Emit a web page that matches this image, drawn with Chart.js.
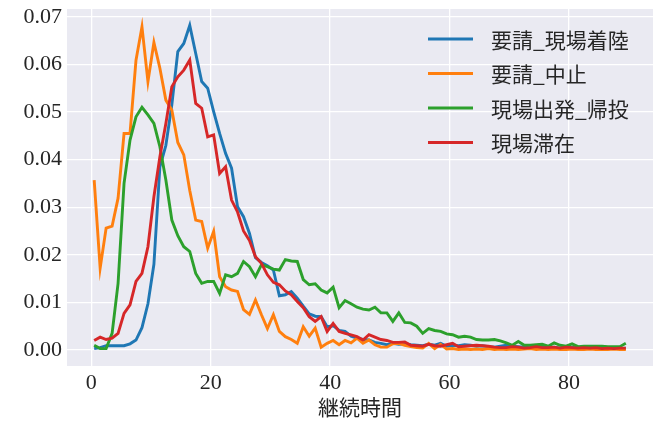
<!DOCTYPE html>
<html>
<head>
<meta charset="utf-8">
<script src="https://cdn.jsdelivr.net/npm/chart.js@4"></script>
<style>
  html, body { margin: 0; padding: 0; background: #ffffff; }
  #chart { display: block; }
</style>
</head>
<body>
<canvas id="chart" width="659" height="421"></canvas>
<script>
// 継続時間 (bin centres)
const durations = [
  0.5, 1.5, 2.5, 3.5, 4.5, 5.5, 6.5, 7.5, 8.5, 9.5,
  10.5, 11.5, 12.5, 13.5, 14.5, 15.5, 16.5, 17.5, 18.5, 19.5,
  20.5, 21.5, 22.5, 23.5, 24.5, 25.5, 26.5, 27.5, 28.5, 29.5,
  30.5, 31.5, 32.5, 33.5, 34.5, 35.5, 36.5, 37.5, 38.5, 39.5,
  40.5, 41.5, 42.5, 43.5, 44.5, 45.5, 46.5, 47.5, 48.5, 49.5,
  50.5, 51.5, 52.5, 53.5, 54.5, 55.5, 56.5, 57.5, 58.5, 59.5,
  60.5, 61.5, 62.5, 63.5, 64.5, 65.5, 66.5, 67.5, 68.5, 69.5,
  70.5, 71.5, 72.5, 73.5, 74.5, 75.5, 76.5, 77.5, 78.5, 79.5,
  80.5, 81.5, 82.5, 83.5, 84.5, 85.5, 86.5, 87.5, 88.5, 89.5
];

const seriesNames = ['要請_現場着陸', '要請_中止', '現場出発_帰投', '現場滞在'];
const seriesColors = ['#1f77b4', '#ff7f0e', '#2ca02c', '#d62728'];

const requestToArrival = [
  0.0003, 0.0005, 0.0009, 0.0009, 0.0009, 0.0009, 0.0013, 0.0021, 0.0047, 0.0097,
  0.0180, 0.0385, 0.0430, 0.0515, 0.0627, 0.0644, 0.0682, 0.0623, 0.0564, 0.0550,
  0.0501, 0.0455, 0.0413, 0.0382, 0.0301, 0.0280, 0.0245, 0.0194, 0.0184, 0.0177,
  0.0168, 0.0114, 0.0116, 0.0123, 0.0109, 0.0092, 0.0076, 0.0071, 0.0070, 0.0049,
  0.0051, 0.0041, 0.0039, 0.0029, 0.0025, 0.0022, 0.0021, 0.0016, 0.0014, 0.0011,
  0.0014, 0.0012, 0.0013, 0.0011, 0.0010, 0.0009, 0.0012, 0.0010, 0.0014, 0.0008,
  0.0010, 0.0009, 0.0011, 0.0010, 0.0008, 0.0009, 0.0007, 0.0006, 0.0008, 0.0010,
  0.0008, 0.0007, 0.0006, 0.0005, 0.0008, 0.0006, 0.0005, 0.0006, 0.0004, 0.0005,
  0.0006, 0.0004, 0.0005, 0.0004, 0.0003, 0.0004, 0.0003, 0.0004, 0.0003, 0.0004
];

const requestCancelled = [
  0.0357, 0.0172, 0.0256, 0.0260, 0.0319, 0.0455, 0.0455, 0.0609, 0.0679, 0.0564,
  0.0646, 0.0592, 0.0525, 0.0504, 0.0436, 0.0410, 0.0335, 0.0273, 0.0270, 0.0214,
  0.0249, 0.0154, 0.0133, 0.0126, 0.0123, 0.0085, 0.0075, 0.0105, 0.0074, 0.0045,
  0.0074, 0.0039, 0.0028, 0.0022, 0.0014, 0.0049, 0.0029, 0.0046, 0.0006, 0.0014,
  0.0020, 0.0011, 0.0020, 0.0015, 0.0025, 0.0014, 0.0021, 0.0011, 0.0006, 0.0006,
  0.0013, 0.0014, 0.0010, 0.0007, 0.0005, 0.0004, 0.0014, 0.0003, 0.0012, 0.0002,
  0.0003, 0.0001, 0.0002, 0.0001, 0.0002, 0.0001, 0.0003, 0.0001, 0.0002, 0.0001,
  0.0002, 0.0001, 0.0002, 0.0003, 0.0001, 0.0002, 0.0001, 0.0002, 0.0001, 0.0001,
  0.0002, 0.0001, 0.0001, 0.0002, 0.0001, 0.0001, 0.0001, 0.0002, 0.0001, 0.0001
];

const departToReturn = [
  0.0010, 0.0003, 0.0003, 0.0035, 0.0140, 0.0350, 0.0441, 0.0490, 0.0510, 0.0494,
  0.0476, 0.0427, 0.0357, 0.0273, 0.0240, 0.0217, 0.0207, 0.0161, 0.0140, 0.0144,
  0.0144, 0.0119, 0.0158, 0.0154, 0.0161, 0.0186, 0.0175, 0.0154, 0.0179, 0.0175,
  0.0170, 0.0168, 0.0190, 0.0187, 0.0186, 0.0148, 0.0137, 0.0139, 0.0126, 0.0120,
  0.0132, 0.0089, 0.0104, 0.0097, 0.0090, 0.0086, 0.0084, 0.0090, 0.0078, 0.0078,
  0.0060, 0.0078, 0.0058, 0.0057, 0.0050, 0.0035, 0.0045, 0.0041, 0.0039, 0.0034,
  0.0032, 0.0027, 0.0029, 0.0027, 0.0022, 0.0021, 0.0021, 0.0022, 0.0019, 0.0015,
  0.0010, 0.0018, 0.0010, 0.0010, 0.0011, 0.0012, 0.0008, 0.0015, 0.0010, 0.0008,
  0.0013, 0.0007, 0.0008, 0.0008, 0.0008, 0.0008, 0.0007, 0.0007, 0.0007, 0.0014
];

const onSiteStay = [
  0.0020, 0.0027, 0.0022, 0.0025, 0.0035, 0.0077, 0.0095, 0.0144, 0.0161, 0.0217,
  0.0322, 0.0406, 0.0476, 0.0553, 0.0574, 0.0588, 0.0609, 0.0518, 0.0508, 0.0448,
  0.0452, 0.0371, 0.0385, 0.0315, 0.0290, 0.0250, 0.0230, 0.0196, 0.0182, 0.0158,
  0.0142, 0.0137, 0.0124, 0.0116, 0.0102, 0.0089, 0.0070, 0.0060, 0.0070, 0.0039,
  0.0056, 0.0039, 0.0035, 0.0032, 0.0028, 0.0021, 0.0032, 0.0027, 0.0022, 0.0020,
  0.0016, 0.0016, 0.0017, 0.0010, 0.0009, 0.0008, 0.0012, 0.0009, 0.0008, 0.0011,
  0.0014, 0.0007, 0.0008, 0.0009, 0.0010, 0.0009, 0.0008, 0.0006, 0.0005, 0.0005,
  0.0007, 0.0006, 0.0004, 0.0005, 0.0007, 0.0005, 0.0005, 0.0006, 0.0004, 0.0006,
  0.0005, 0.0004, 0.0005, 0.0004, 0.0005, 0.0003, 0.0004, 0.0003, 0.0004, 0.0004
];

const xTicks = [0, 20, 40, 60, 80];
const yTicks = [0, 0.01, 0.02, 0.03, 0.04, 0.05, 0.06, 0.07];

const allSeries = [requestToArrival, requestCancelled, departToReturn, onSiteStay];

const TICK_FONT = { family: "'Liberation Serif', 'DejaVu Serif', serif", size: 22 };
const CJK_FONT = "'Noto Sans CJK JP', 'Noto Sans', sans-serif";
const TEXT_COLOR = '#262626';
const LINE_WIDTH = 2.9;

// grey plot background like seaborn darkgrid
const plotBackground = {
    id: 'plotBackground',
    beforeDraw(chart) {
        const { ctx, chartArea } = chart;
        ctx.save();
        ctx.fillStyle = '#eaeaf2';
        ctx.fillRect(chartArea.left, chartArea.top, chartArea.right - chartArea.left, chartArea.bottom - chartArea.top);
        ctx.restore();
    }
};

// legend inside the upper right corner, without a frame
const insideLegend = {
    id: 'insideLegend',
    afterDraw(chart) {
        const { ctx, chartArea } = chart;
        const lineX0 = chartArea.right - 225;
        const lineX1 = lineX0 + 45;
        const textX = chartArea.right - 162;
        ctx.save();
        ctx.font = `21px ${CJK_FONT}`;
        ctx.textBaseline = 'middle';
        ctx.textAlign = 'left';
        chart.data.datasets.forEach((ds, i) => {
            const y = chartArea.top + 30 + i * 34.5;
            ctx.strokeStyle = ds.borderColor;
            ctx.lineWidth = LINE_WIDTH;
            ctx.beginPath();
            ctx.moveTo(lineX0, y);
            ctx.lineTo(lineX1, y);
            ctx.stroke();
            ctx.fillStyle = TEXT_COLOR;
            ctx.fillText(ds.label, textX, y + 1);
        });
        ctx.restore();
    }
};

const datasets = seriesNames.map((name, i) => ({
    label: name,
    data: durations.map((x, j) => ({ x: x, y: allSeries[i][j] })),
    borderColor: seriesColors[i],
    backgroundColor: seriesColors[i],
    borderWidth: LINE_WIDTH,
    pointRadius: 0,
    tension: 0,
    fill: false,
    order: seriesNames.length - i
}));

new Chart(document.getElementById('chart'), {
    type: 'line',
    data: { datasets: datasets },
    options: {
        responsive: false,
        devicePixelRatio: 1,
        animation: false,
        layout: { padding: { top: 9, right: 6, left: 0, bottom: 0 } },
        plugins: {
            legend: { display: false },
            tooltip: { enabled: false }
        },
        scales: {
            x: {
                type: 'linear',
                min: -4.05,
                max: 94.05,
                afterBuildTicks: (scale) => { scale.ticks = xTicks.map(v => ({ value: v })); },
                afterFit: (scale) => {
                    scale.height = 55;
                    scale.paddingLeft = 0;
                    scale.paddingRight = 0;
                },
                border: { display: false },
                grid: { color: '#ffffff', lineWidth: 1.3, drawTicks: false, tickLength: 0 },
                ticks: {
                    font: TICK_FONT,
                    color: TEXT_COLOR,
                    padding: 4,
                    maxRotation: 0,
                    autoSkip: false,
                    callback: (v) => String(v)
                },
                title: {
                    display: true,
                    text: '継続時間',
                    color: TEXT_COLOR,
                    font: { family: CJK_FONT, size: 21, lineHeight: 1.2 },
                    padding: { top: 0, bottom: 1 }
                }
            },
            y: {
                min: -0.00336,
                max: 0.07164,
                afterBuildTicks: (scale) => { scale.ticks = yTicks.map(v => ({ value: v })); },
                afterFit: (scale) => {
                    scale.width = 67;
                    scale.paddingTop = 0;
                    scale.paddingBottom = 0;
                },
                border: { display: false },
                grid: { color: '#ffffff', lineWidth: 1.3, drawTicks: false, tickLength: 0 },
                ticks: {
                    font: TICK_FONT,
                    color: TEXT_COLOR,
                    padding: 5,
                    autoSkip: false,
                    callback: (v) => v.toFixed(2)
                }
            }
        }
    },
    plugins: [plotBackground, insideLegend]
});
</script>
</body>
</html>
